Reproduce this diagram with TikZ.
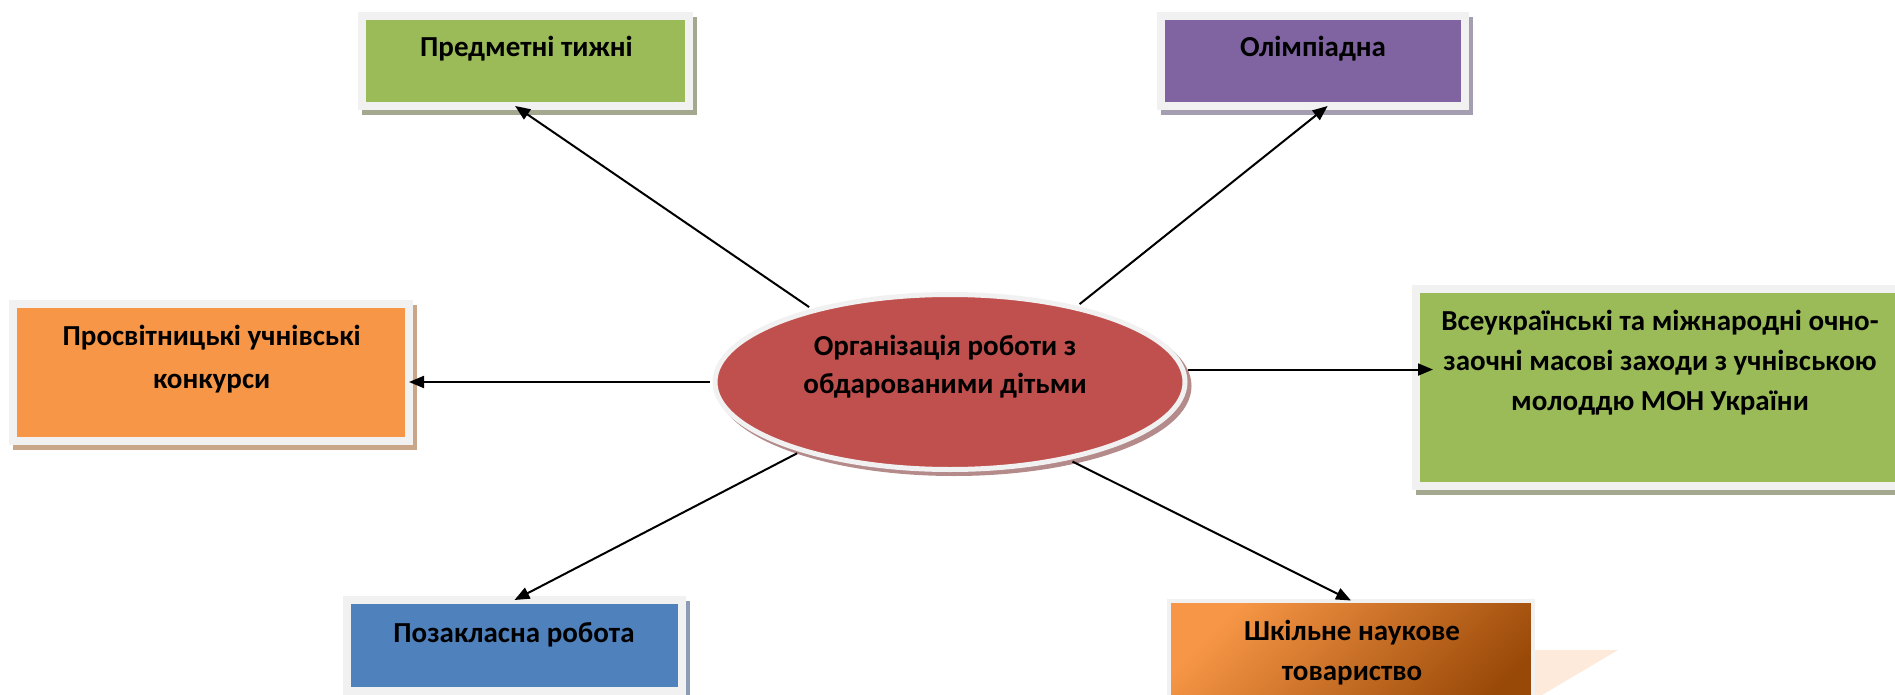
\documentclass[tikz,border=0pt]{standalone}
\usepackage{fontspec}
\setmainfont{Carlito}
\usetikzlibrary{arrows.meta,shadows,calc,shapes.geometric}
\definecolor{cgreen}{HTML}{9BBB59}
\definecolor{cpurple}{HTML}{8064A2}
\definecolor{corange}{HTML}{F79646}
\definecolor{cblue}{HTML}{4F81BD}
\definecolor{cred}{HTML}{C0504D}
\definecolor{cbrown}{HTML}{984807}
\definecolor{cpeach}{HTML}{FDEADA}
\definecolor{bordergray}{HTML}{F1F1F1}
\definecolor{shgreen}{HTML}{A4A88E}
\definecolor{shpurple}{HTML}{A59DB0}
\definecolor{shorange}{HTML}{C9A688}
\definecolor{shblue}{HTML}{8C9CB6}
\definecolor{shred}{HTML}{B48A8B}
\begin{document}
\begin{tikzpicture}[x=1pt,y=-1pt,
  box/.style={rectangle, inner sep=0pt, outer sep=0pt, draw=bordergray, line width=8pt},
  shbox/.style={general shadow={fill=#1, draw=#1, line width=8pt, shadow xshift=4pt, shadow yshift=-5pt}},
  txt/.style={font=\fontsize{29}{40}\selectfont\bfseries, align=center, inner sep=0pt, anchor=base},
  arr/.style={line width=2pt, -{Triangle[length=15pt,width=12pt]}}
]
\useasboundingbox (0,0) rectangle (1895,695);
\clip (0,0) rectangle (1895,695);

% peach shape behind the last box
\fill[cpeach] (1500,650) -- (1618,650) -- (1542,695) -- (1500,695) -- cycle;

% boxes
\node[box, shbox=shgreen, fill=cgreen, minimum width=327pt, minimum height=90pt] (box1) at (525.5,61) {};
\node[box, shbox=shpurple, fill=cpurple, minimum width=304pt, minimum height=90pt] (box2) at (1313,61) {};
\node[box, shbox=shorange, fill=corange, minimum width=396pt, minimum height=137pt] (box3) at (211,372.5) {};
\node[box, shbox=shgreen, fill=cgreen, minimum width=489pt, minimum height=197pt] (box4) at (1660.5,387.5) {};
\node[box, shbox=shblue, fill=cblue, minimum width=335pt, minimum height=91pt] (box5) at (514.5,645.5) {};
\node[box, line width=4pt, top color=corange, bottom color=cbrown, shading angle=45, minimum width=364.5pt, minimum height=129pt] (box6) at (1351,665) {};

% central ellipse
\node[ellipse, inner sep=0pt, outer sep=5pt, draw=bordergray, line width=5pt, fill=cred,
  general shadow={fill=shred, draw=shred, line width=5pt, shadow xshift=4pt, shadow yshift=-4pt},
  minimum width=470pt, minimum height=175pt] (ell) at (950,382) {};

% texts (anchor = baseline of the last line)
\node[txt] (t1) at (526.5,57) {Предметні тижні};
\node[txt] (t2) at (1313,57) {Олімпіадна};
\node[txt, font=\fontsize{29}{43}\selectfont\bfseries] (t3) at (211.7,388) {Просвітницькі учнівські\\конкурси};
\node[txt] (t4) at (1660,410) {Всеукраїнські та міжнародні очно-\\заочні масові заходи з учнівською\\молоддю МОН України};
\node[txt, font=\fontsize{29}{38}\selectfont\bfseries] (t0) at (945,393) {Організація роботи з\\обдарованими дітьми};
\node[txt] (t5) at (514,642) {Позакласна робота};
\node[txt] (t6) at (1352,680) {Шкільне наукове\\товариство};

% connectors
\draw[arr] (ell.152.7) -- (box1.257);
\draw[arr] (ell.31.9) -- (box2.288);
\draw[arr] (ell.180) -- (ell.180 -| box3.east);
\draw[arr, shorten >=-17pt] (ell.3) -- (ell.3 -| box4.west);
\draw[arr] (ell.205.5) -- (box5.north);
\draw[arr] (ell.327.5) -- (box6.north);
\end{tikzpicture}
\end{document}
